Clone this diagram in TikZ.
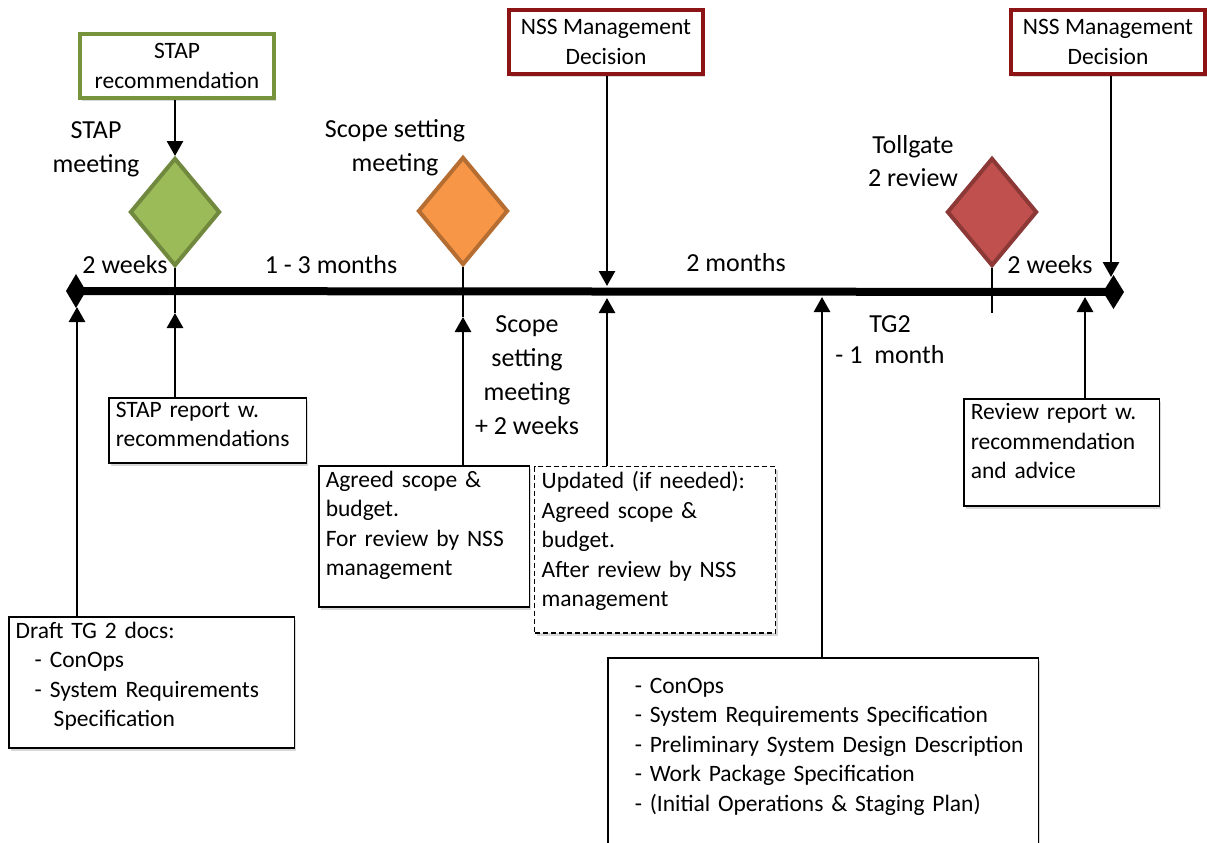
\documentclass[tikz,border=0pt]{standalone}
\usepackage{fontspec}
\setmainfont{Carlito}
\usepackage{tikz}
\usetikzlibrary{arrows.meta}
\usetikzlibrary{shapes.geometric}
\usetikzlibrary{shadows}

\definecolor{stapfill}{RGB}{155,187,89}
\definecolor{stapline}{RGB}{113,137,63}
\definecolor{stapframe}{RGB}{119,147,60}
\definecolor{scopefill}{RGB}{247,150,70}
\definecolor{scopeline}{RGB}{182,109,49}
\definecolor{tgfill}{RGB}{192,80,77}
\definecolor{tgline}{RGB}{140,56,54}
\definecolor{nssframe}{RGB}{140,20,20}

\newcommand{\boxsize}{\fontsize{23.5}{29.5}\selectfont}
\newcommand{\labelsize}{\fontsize{26}{34}\selectfont}

\tikzset{
	gate/.style={diamond, draw, line width=4pt, minimum width=90pt, minimum height=108pt, inner sep=0pt},
	boxshadow/.style={drop shadow={shadow xshift=2pt, shadow yshift=-3pt, opacity=0.3}},
	decision/.style={draw, fill=white, line width=3.5pt, align=center, minimum width=194pt, minimum height=64pt, inner sep=0pt, font=\boxsize, boxshadow},
	doc/.style={draw, fill=white, line width=1.5pt, align=left, anchor=north west, inner xsep=7pt, inner ysep=5pt, font=\boxsize, boxshadow},
	lbl/.style={align=center, inner sep=0pt, font=\labelsize},
	link/.style={line width=2.8pt, -{Triangle[width=16pt, length=15pt]}},
	stub/.style={line width=2.8pt},
}

\begin{document}
\begin{tikzpicture}[x=1pt, y=-1pt]
			\path[use as bounding box, fill=white] (0,0) rectangle (1207,843);

			\node[decision, draw=stapframe] (SR) at (177,66) {STAP\\recommendation};
			\node[decision, draw=nssframe] (N1) at (606,42) {NSS Management\\Decision};
			\node[decision, draw=nssframe] (N2) at (1108,42) {NSS Management\\Decision};

			\node[gate, fill=stapfill, draw=stapline] (SM) at (175,212) {};
			\node[gate, fill=scopefill, draw=scopeline] (SC) at (463,211) {};
			\node[gate, fill=tgfill, draw=tgline] (TG) at (992,212) {};

			\node[lbl] (lSM) at (96,149) {STAP\\meeting};
			\node[lbl] (lSC) at (395,148) {Scope setting\\meeting};
			\node[lbl] (lTG) at (913,161) {Tollgate\\[-1pt]2 review};
			\node[lbl] (lSC2) at (527,375) {Scope\\setting\\meeting\\+ 2 weeks};
			\node[lbl] (lTG2) at (890,340) {TG2\\[-3pt]- 1~~month};
			\node[lbl] (w1) at (125,265) {2 weeks};
			\node[lbl] (w2) at (331,265) {1 - 3 months};
			\node[lbl] (w3) at (736,263) {2 months};
			\node[lbl] (w4) at (1050,265) {2 weeks};

			\node[doc, inner ysep=4pt, text width=183.5pt, text depth=42pt] (RP) at (108,397) {STAP report w.\\recommendations};
			\node[doc, text width=271.5pt, text depth=105pt] (DR) at (8,616) {Draft TG 2 docs:\\\hspace*{19pt}- ConOps\\\hspace*{19pt}- System Requirements\\\hspace*{38pt}Specification};
			\node[doc, text width=196.5pt, text depth=115pt] (AG) at (318,465) {Agreed scope \&\\budget.\\For review by NSS\\management};
			\node[doc, dash pattern=on 5pt off 3pt, line width=1.4pt, text width=227pt, text depth=139pt] (UP) at (534,466) {Updated (if needed):\\Agreed scope \&\\budget.\\After review by NSS\\management};
			\node[doc, text width=181.5pt, text depth=81pt] (RV) at (963,398) {Review report w.\\recommendation\\and advice};
			\node[doc, inner ysep=20pt, text width=416.5pt, text depth=180pt] (TD) at (607,657) {\hspace*{20pt}- ConOps\\\hspace*{20pt}- System Requirements Specification\\\hspace*{20pt}- Preliminary System Design Description\\\hspace*{20pt}- Work Package Specification\\\hspace*{20pt}- (Initial Operations \& Staging Plan)};

			\coordinate (T0) at (66,291);
			\coordinate (T1) at (1124,292);
			\coordinate (G) at (175,313);
			\coordinate (O) at (463,317);
			\coordinate (R) at (992,313);
			\coordinate (D1) at (607,286);
			\coordinate (D2) at (607,298);
			\coordinate (W) at (822,297);
			\coordinate (E1) at (1111,277);
			\coordinate (E2) at (1085,297);
			\coordinate (F) at (77,307);

			\draw[line width=8pt, {Diamond[length=20pt, width=34pt, line width=0pt]}-{Diamond[length=21pt, width=34pt, line width=0pt]}] (T0) -- (T1);

			\draw[link] (SR.south -| SM.north) -- (SM.north);
			\draw[stub] (SM.south) -- (G);
			\draw[link] (RP.north -| G) -- (G);
			\draw[stub] (SC.south) -- (O);
			\draw[link] (AG.north -| O) -- (O);
			\draw[link] (N1.south -| D1) -- (D1);
			\draw[link] (UP.north -| D2) -- (D2);
			\draw[link] (TD.north -| W) -- (W);
			\draw[stub] (TG.south) -- (R);
			\draw[link] (N2.south -| E1) -- (E1);
			\draw[link] (RV.north -| E2) -- (E2);
			\draw[link] (DR.north -| F) -- (F);
\end{tikzpicture}
\end{document}
